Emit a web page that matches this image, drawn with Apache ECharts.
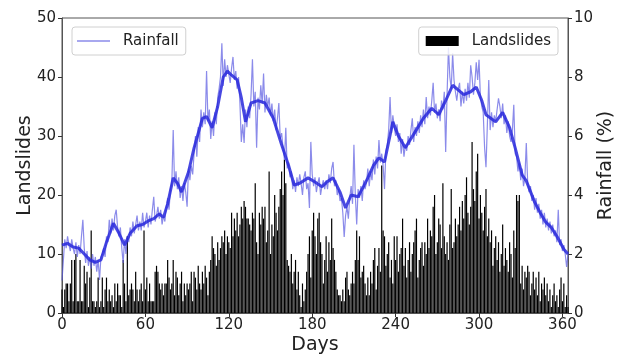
<!DOCTYPE html>
<html>
<head>
<meta charset="utf-8">
<script src="https://cdn.jsdelivr.net/npm/echarts@6/dist/echarts.min.js"></script>
<style>
  html, body { margin: 0; padding: 0; background: #fff; }
  #chart { width: 626px; height: 356px; }
</style>
</head>
<body>
<div id="chart"></div>
<script>
// daily landslide counts, day 0 .. 364
var landslides = [
  4, 1, 4, 5, 5, 2, 5, 9, 2, 9,
  10, 2, 2, 9, 2, 2, 8, 5, 7, 1,
  6, 14, 2, 2, 1, 2, 6, 1, 2, 6,
  1, 4, 6, 2, 4, 2, 3, 1, 5, 2,
  5, 3, 3, 1, 9, 5, 2, 13, 3, 4,
  5, 4, 2, 7, 4, 2, 4, 5, 2, 14,
  4, 6, 2, 5, 2, 2, 2, 7, 8, 7,
  5, 4, 5, 3, 5, 5, 9, 6, 4, 5,
  9, 3, 7, 6, 3, 5, 7, 2, 5, 3,
  5, 4, 5, 7, 2, 7, 6, 4, 8, 5,
  4, 7, 5, 8, 6, 3, 7, 9, 13, 11,
  10, 8, 12, 9, 11, 13, 12, 14, 10, 13,
  12, 11, 17, 13, 16, 14, 17, 13, 15, 18,
  16, 19, 18, 16, 16, 15, 14, 17, 16, 22,
  12, 10, 17, 15, 18, 16, 18, 12, 14, 24,
  10, 15, 13, 20, 17, 14, 18, 21, 24, 20,
  26, 22, 9, 8, 7, 10, 5, 7, 9, 4,
  7, 3, 1, 5, 2, 4, 7, 10, 13, 6,
  14, 17, 13, 10, 16, 17, 12, 10, 5, 9,
  13, 7, 12, 9, 16, 11, 9, 7, 4, 3,
  3, 2, 4, 2, 6, 7, 4, 3, 5, 7,
  5, 9, 14, 9, 13, 6, 7, 8, 5, 3,
  6, 3, 7, 5, 9, 11, 4, 8, 11, 7,
  25, 14, 13, 8, 10, 12, 6, 9, 5, 13,
  9, 13, 7, 10, 11, 16, 8, 11, 6, 9,
  12, 7, 10, 12, 14, 16, 6, 9, 11, 12,
  8, 12, 10, 16, 11, 14, 13, 18, 20, 10,
  12, 16, 15, 11, 22, 13, 10, 12, 9, 15,
  21, 11, 12, 16, 13, 15, 18, 14, 19, 16,
  20, 23, 17, 15, 18, 29, 21, 19, 24, 27,
  16, 20, 17, 14, 18, 21, 13, 16, 12, 14,
  8, 11, 13, 9, 12, 7, 10, 15, 8, 11,
  9, 7, 12, 10, 6, 14, 11, 20, 19, 20,
  5, 8, 4, 7, 6, 8, 7, 3, 5, 7,
  4, 6, 3, 7, 2, 5, 4, 6, 3, 5,
  2, 4, 1, 3, 5, 2, 3, 1, 4, 6,
  2, 5, 1, 3, 1
];

// daily rainfall (%), day 0 .. 364
var rainfall = [
  1.1, 1.8, 2.5, 2.2, 2.6, 2.3, 2.1, 2.5, 2.2, 2.0,
  2.4, 1.9, 2.3, 2.0, 2.6, 3.16, 2.2, 1.7, 2.1, 1.6,
  1.9, 1.5, 2.0, 1.6, 1.9, 1.4, 1.8, 1.12, 1.9, 2.0,
  2.2, 1.9, 2.6, 2.4, 3.16, 2.7, 3.2, 2.8, 3.3, 3.5,
  2.9, 2.6, 2.9, 2.2, 1.7, 2.5, 2.0, 2.6, 2.4, 2.9,
  2.6, 3.1, 2.7, 3.0, 3.3, 2.8, 3.1, 2.8, 3.4, 2.9,
  3.1, 3.4, 2.9, 3.3, 3.0, 3.5, 3.94, 3.1, 3.3, 3.6,
  3.2, 3.5, 3.0, 3.3, 3.1, 3.6, 3.9, 3.5, 4.2, 4.4,
  6.2, 4.3, 4.8, 4.2, 4.6, 3.9, 4.3, 3.8, 4.4, 4.1,
  3.6, 4.9, 4.5, 5.0, 4.7, 5.4, 6.0, 5.3, 6.3, 5.8,
  6.9, 6.3, 6.8, 6.4, 8.2, 6.5, 6.9, 5.9, 6.5, 6.0,
  6.8, 6.4, 7.3, 7.6, 8.0, 9.14, 7.7, 8.6, 8.0, 8.4,
  8.1, 7.8, 8.3, 8.68, 7.9, 8.2, 7.6, 8.0, 7.1, 5.8,
  6.4, 5.76, 6.9, 6.3, 7.0, 6.6, 7.4, 8.6, 7.0, 7.5,
  5.6, 7.3, 6.9, 7.72, 7.1, 8.12, 6.8, 7.4, 7.0, 7.3,
  6.7, 7.1, 6.5, 6.9, 6.2, 6.6, 7.12, 5.9, 6.1, 5.6,
  5.2, 6.28, 4.9, 5.1, 4.6, 4.8, 4.2, 4.5, 4.1, 4.6,
  4.3, 4.7, 4.4, 4.0, 4.6, 4.8, 4.2, 4.4, 3.56, 5.8,
  4.7, 4.3, 4.6, 4.1, 4.4, 4.6, 4.0, 4.3, 4.5, 4.2,
  4.5, 4.2, 4.7, 4.4, 4.9, 5.12, 4.3, 4.5, 4.0, 4.2,
  3.8, 3.9, 3.4, 2.58, 3.3, 3.6, 3.2, 3.9, 4.3, 3.7,
  5.7, 4.0, 3.0, 4.2, 3.9, 4.3, 3.8, 4.5, 4.2, 4.4,
  4.9, 4.3, 4.8, 4.5, 5.2, 4.7, 5.3, 4.9, 5.86, 5.1,
  5.4, 5.0, 4.2, 5.5, 5.7, 6.2, 7.32, 6.1, 6.7, 6.3,
  6.0, 6.4, 5.8, 6.1, 5.4, 5.9, 5.3, 5.7, 5.5, 6.0,
  5.7, 6.2, 6.6, 5.8, 6.3, 6.0, 6.5, 6.1, 6.7, 6.3,
  6.9, 6.4, 7.32, 6.6, 7.0, 6.7, 7.2, 7.8, 6.8, 7.1,
  6.6, 6.9, 6.5, 7.2, 6.9, 7.5, 5.46, 7.4, 9.0, 8.0,
  7.6, 8.8, 7.9, 7.5, 7.2, 7.6, 7.8, 7.0, 7.5, 7.1,
  7.6, 7.2, 7.8, 7.3, 8.4, 8.0, 7.4, 7.8, 8.5, 7.9,
  8.58, 7.3, 7.0, 6.8, 5.6, 4.94, 6.4, 7.9, 6.2, 6.8,
  6.3, 6.7, 6.5, 6.9, 7.28, 7.0, 6.6, 7.1, 6.4, 6.7,
  6.1, 6.5, 6.0, 5.8, 6.2, 7.06, 5.4, 5.3, 4.8, 5.1,
  4.5, 4.9, 4.3, 4.6, 5.76, 4.4, 4.1, 4.3, 3.8, 4.0,
  3.5, 3.9, 3.4, 3.7, 3.2, 3.5, 3.0, 3.4, 2.9, 3.2,
  2.8, 3.1, 2.7, 3.0, 2.6, 2.8, 2.4, 3.5, 2.3, 2.5,
  2.1, 2.3, 2.0, 1.56, 2.0
];

// smoothed rainfall trend (%)
var smoothDays = [0, 4, 8, 12, 16, 20, 24, 28, 32, 37, 41, 45, 49, 54, 58, 62, 66, 70, 73, 76,
  80, 83, 86, 91, 95, 98, 101, 104, 108, 112, 116, 119, 122, 126, 129, 132, 136, 141, 146, 152,
  158, 163, 167, 171, 177, 182, 187, 191, 195, 200, 204, 208, 213, 217, 220, 224, 228, 232, 235, 238,
  242, 247, 254, 260, 266, 271, 276, 281, 289, 294, 298, 302, 305, 312, 317, 322, 326, 331, 334, 340,
  344, 348, 352, 356, 361, 364];
var smoothRain = [2.3, 2.36, 2.24, 2.2, 2.0, 1.8, 1.72, 1.8, 2.4, 3.04, 2.7, 2.3, 2.7, 2.96, 3.0, 3.12, 3.2, 3.36, 3.24, 3.7,
  4.58, 4.4, 4.1, 4.78, 5.6, 6.1, 6.6, 6.66, 6.28, 7.0, 8.0, 8.2, 8.06, 7.9, 7.3, 6.48, 7.12, 7.2, 7.12, 6.6,
  5.7, 5.0, 4.34, 4.4, 4.58, 4.44, 4.28, 4.46, 4.58, 4.1, 3.56, 4.0, 3.94, 4.3, 4.58, 5.0, 5.26, 5.12, 5.8, 6.48,
  6.0, 5.6, 6.14, 6.6, 6.94, 6.72, 7.2, 7.72, 7.4, 7.5, 7.66, 7.2, 6.72, 6.48, 6.8, 6.28, 5.6, 4.68, 4.48, 3.76,
  3.4, 3.08, 2.9, 2.6, 2.16, 2.0];

var xTicks = [0, 60, 120, 180, 240, 300, 360];

var font = 'DejaVu Sans';
var myChart = echarts.init(document.getElementById('chart'), null, { renderer: 'canvas' });

var barData = landslides.map(function (v, i) { return [i, v]; });
var rainData = rainfall.map(function (v, i) { return [i, v]; });
var trendData = smoothDays.map(function (d, i) { return [d, smoothRain[i]]; });

var option = {
  animation: false,
  backgroundColor: '#fff',
  grid: {
    left: 62, right: 58, top: 18, bottom: 43,
    outerBoundsMode: 'none',
    containLabel: false,
    show: true, borderColor: '#555', borderWidth: 1, backgroundColor: 'transparent'
  },
  legend: [{
    data: [{ name: 'Rainfall', icon: 'rect' }],
    left: 72, top: 27,
    itemWidth: 33, itemHeight: 1.5,
    padding: [6, 7, 6, 5],
    backgroundColor: 'rgba(255,255,255,0.8)',
    borderColor: '#d0d0d0', borderWidth: 1, borderRadius: 3,
    textStyle: { fontFamily: font, fontSize: 15, color: '#222', padding: [0, 0, 0, 8], lineHeight: 16 }
  }, {
    data: [{ name: 'Landslides', icon: 'rect' }],
    right: 68, top: 27,
    itemWidth: 33, itemHeight: 10,
    padding: [6, 7, 6, 7],
    backgroundColor: 'rgba(255,255,255,0.8)',
    borderColor: '#d0d0d0', borderWidth: 1, borderRadius: 3,
    textStyle: { fontFamily: font, fontSize: 15, color: '#222', padding: [0, 0, 0, 8], lineHeight: 16 }
  }],
  xAxis: {
    type: 'value',
    min: 0, max: 364,
    name: 'Days', nameLocation: 'middle', nameGap: 23, nameMoveOverlap: false,
    nameTextStyle: { fontFamily: font, fontSize: 19, color: '#222' },
    splitLine: { show: false },
    axisLine: { show: true, lineStyle: { color: '#555' } },
    axisTick: { show: true, length: 4, customValues: xTicks, lineStyle: { color: '#333' } },
    axisLabel: { customValues: xTicks, fontFamily: font, fontSize: 15, color: '#222', margin: 5 }
  },
  yAxis: [{
    type: 'value',
    min: 0, max: 50, interval: 10,
    name: 'Landslides', nameLocation: 'middle', nameGap: 27, nameMoveOverlap: false,
    nameTextStyle: { fontFamily: font, fontSize: 19, color: '#222' },
    splitLine: { show: false },
    axisLine: { show: true, lineStyle: { color: '#555' } },
    axisTick: { show: true, length: 4, lineStyle: { color: '#333' } },
    axisLabel: { fontFamily: font, fontSize: 15, color: '#222', margin: 6 }
  }, {
    type: 'value',
    min: 0, max: 10, interval: 2,
    name: 'Rainfall (%)', nameLocation: 'middle', nameGap: 29, nameRotate: 90, nameMoveOverlap: false,
    nameTextStyle: { fontFamily: font, fontSize: 19, color: '#222' },
    splitLine: { show: false },
    axisLine: { show: true, lineStyle: { color: '#555' } },
    axisTick: { show: true, length: 4, lineStyle: { color: '#333' } },
    axisLabel: { fontFamily: font, fontSize: 15, color: '#222', margin: 6 }
  }],
  series: [{
    name: 'Landslides',
    type: 'bar',
    yAxisIndex: 0,
    barWidth: 1.2,
    itemStyle: { color: '#000' },
    data: barData,
    z: 2
  }, {
    name: 'Rainfall',
    type: 'line',
    yAxisIndex: 1,
    showSymbol: false,
    symbol: 'none',
    lineStyle: { width: 1.2, color: 'rgba(90,90,225,0.7)' },
    itemStyle: { color: 'rgba(90,90,225,0.7)' },
    data: rainData,
    z: 3
  }, {
    name: 'Rainfall trend',
    type: 'line',
    yAxisIndex: 1,
    showSymbol: false,
    symbol: 'none',
    lineStyle: { width: 3, color: 'rgba(40,40,220,0.85)' },
    data: trendData,
    z: 4
  }]
};
myChart.setOption(option);
</script>
</body>
</html>
